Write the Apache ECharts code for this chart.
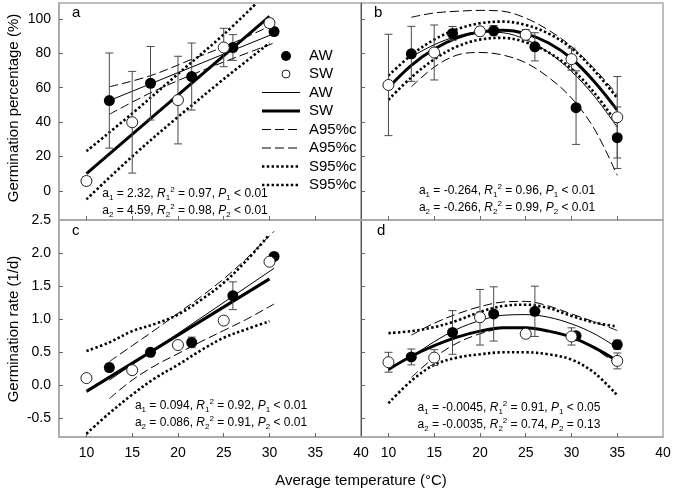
<!DOCTYPE html>
<html><head><meta charset="utf-8">
<script src="https://cdn.jsdelivr.net/npm/echarts@6/dist/echarts.min.js"></script>
<style>html,body{margin:0;padding:0;background:#fff}#c{width:675px;height:496px}</style>
</head><body><div id="c"></div>
<script>
// ---------- data ----------
const tempAW = [12.5, 17, 21.5, 26, 30.5, 35];
const tempSW = [10, 15, 20, 25, 30, 35];
const xTickLabels = [10, 15, 20, 25, 30, 35, 40];
const pctTicks = [0, 20, 40, 60, 80, 100];
const rateTicks = [-0.5, 0, 0.5, 1.0, 1.5, 2.0, 2.5];

// panel a: germination percentage (linear)
const aAW = [52.5, 62.6, 66.5, 83.4, 92.7];
const aAWerr = [27.7, 21.4, 19.5, 7.5, 2];
const aSW = [5.7, 39.9, 52.8, 83.4, 97.6];
const aSWerr = [2.5, 29.6, 25.5, 11.2, 2.5];
const aFitAW = [[12.5, 52.5], [30.5, 91.5]];
const aFitSW = [[10, 10], [30, 101.5]];
const aA95U = [[12.5, 60.5], [17, 67], [21.5, 76.5], [26, 86], [30.5, 97]];
const aA95L = [[12.5, 44.5], [17, 57], [21.5, 67.5], [26, 77], [30.5, 86]];
const aS95U = [[10, 23], [15, 45], [20, 68], [25, 91], [28.6, 109.3]];
const aS95L = [[10, -5], [15, 20], [20, 43], [25, 65], [30, 86]];

// panel b: germination percentage (quadratic)
const bAW = [79.7, 91.6, 93.2, 83.8, 48.4, 30.9];
const bAWerr = [16, 4, 3, 8.2, 21.4, 17.9];
const bSW = [61.6, 80.5, 92.8, 90.8, 76.6, 42.8];
const bSWerr = [29.5, 16, 2.5, 3, 6.4, 23.7];
const bFitAW = [[12.5, 78], [15, 85], [17.5, 90], [20, 92.5], [22.5, 92], [25, 88], [27.5, 80.5], [30, 69.5], [32.5, 55], [35, 37]];
const bFitSW = [[10, 60], [12.5, 73], [15, 82.5], [17.5, 89], [20, 92.5], [22.5, 93.5], [25, 91.5], [27.5, 86], [30, 77], [32.5, 63.5], [35, 47]];
const bA95U = [[12.5, 101], [15, 103.5], [17.5, 104.5], [20, 105], [22.5, 104.5], [25, 100.5], [27.5, 93.5], [30, 84], [32.5, 71], [35, 56]];
const bA95L = [[12.5, 60.5], [15, 72], [17.5, 79], [20, 80.5], [22.5, 79], [25, 74.5], [27.5, 66], [30, 54], [32.5, 36], [35, 9]];
const bS95U = [[10, 67], [12.5, 79], [15, 88], [17.5, 94], [20, 97.5], [22.5, 98.5], [25, 96.5], [27.5, 91.5], [30, 83], [32.5, 70], [35, 54]];
const bS95L = [[10, 53], [12.5, 66], [15, 76.5], [17.5, 84], [20, 88], [22.5, 89], [25, 86.5], [27.5, 80.5], [30, 71], [32.5, 57], [35, 39]];

// panel c: germination rate (linear)
const cAW = [0.27, 0.50, 0.65, 1.355, 1.95];
const cAWerr = [0.06, 0.04, 0.08, 0.21, 0.03];
const cSW = [0.11, 0.23, 0.61, 0.98, 1.87];
const cSWerr = [0.05, 0.03, 0.05, 0.06, 0.04];
const cFitAW = [[12.5, 0.08], [30.5, 1.77]];
const cFitSW = [[10, -0.09], [30, 1.61]];
const cA95U = [[12.5, 0.36], [15, 0.6], [17.5, 0.84], [20, 1.09], [22.5, 1.34], [25, 1.61], [27.5, 1.92], [30.5, 2.33]];
const cA95L = [[12.5, -0.2], [15, 0.08], [17.5, 0.3], [20, 0.48], [22.5, 0.66], [25, 0.83], [27.5, 1.0], [30.5, 1.23]];
const cS95U = [[10, 0.52], [12.5, 0.65], [15, 0.82], [17.5, 0.93], [20, 1.07], [22.5, 1.29], [25, 1.55], [27.5, 1.89], [30, 2.28]];
const cS95L = [[10, -0.73], [12.5, -0.42], [15, -0.14], [17.5, 0.11], [20, 0.31], [22.5, 0.53], [25, 0.72], [27.5, 0.85], [30, 0.97]];

// panel d: germination rate (quadratic)
const dAW = [0.43, 0.80, 1.08, 1.12, 0.75, 0.615];
const dAWerr = [0.12, 0.33, 0.41, 0.38, 0.04, 0.07];
const dSW = [0.35, 0.42, 1.03, 0.78, 0.74, 0.37];
const dSWerr = [0.15, 0.12, 0.42, 0.06, 0.13, 0.12];
const dFitAW = [[12.5, 0.43], [15, 0.66], [17.5, 0.85], [20, 0.98], [22.5, 1.06], [25, 1.07], [27.5, 1.03], [30, 0.93], [32.5, 0.78], [35, 0.57]];
const dFitSW = [[10, 0.24], [12.5, 0.44], [15, 0.6], [17.5, 0.73], [20, 0.82], [22.5, 0.87], [25, 0.87], [27.5, 0.82], [30, 0.73], [32.5, 0.57], [35, 0.37]];
const dA95U = [[12.5, 0.76], [15, 0.94], [17.5, 1.08], [20, 1.19], [22.5, 1.26], [25, 1.27], [27.5, 1.2], [30, 1.08], [32.5, 0.96], [35, 0.83]];
const dA95L = [[12.5, 0.12], [15, 0.42], [17.5, 0.64], [20, 0.78], [22.5, 0.86], [25, 0.87], [27.5, 0.83], [30, 0.73], [32.5, 0.56], [35, 0.31]];
const dS95U = [[10, 0.79], [12.5, 0.82], [15, 0.88], [17.5, 0.98], [20, 1.11], [22.5, 1.2], [25, 1.22], [27.5, 1.17], [30, 1.05], [32.5, 0.95], [35, 0.89]];
const dS95L = [[10, -0.27], [12.5, 0.07], [15, 0.31], [17.5, 0.42], [20, 0.47], [22.5, 0.5], [25, 0.5], [27.5, 0.47], [30, 0.39], [32.5, 0.19], [35, -0.15]];

const statsA = ['2.32', '0.97', '< 0.01', '4.59', '0.98', '< 0.01'];
const statsB = ['-0.264', '0.96', '< 0.01', '-0.266', '0.99', '< 0.01'];
const statsC = ['0.094', '0.92', '< 0.01', '0.086', '0.91', '< 0.01'];
const statsD = ['-0.0045', '0.91', '< 0.05', '-0.0035', '0.74', '= 0.13'];

const legendNames = ['AW', 'SW', 'AW', 'SW', 'A95%c', 'A95%c', 'S95%c', 'S95%c'];

// ---------- build ----------
const FONT = '"Liberation Sans", Arial, Helvetica, sans-serif';
const FRAME = '#a8a8a8';
const DOT = [2.4, 2.4];
const DASH = [9, 4];

const panels = [
  {left: 59, top: 3, ymin: -17, ymax: 109.3, yTicks: pctTicks, showY: true, showX: false,
   AWx: tempAW.slice(0, 5), SWx: tempSW.slice(0, 5), AW: aAW, AWe: aAWerr, SW: aSW, SWe: aSWerr,
   fitAW: aFitAW, fitSW: aFitSW, A95U: aA95U, A95L: aA95L, S95U: aS95U, S95L: aS95L},
  {left: 361, top: 3, ymin: -17, ymax: 109.3, yTicks: pctTicks, showY: false, showX: false,
   AWx: tempAW, SWx: tempSW, AW: bAW, AWe: bAWerr, SW: bSW, SWe: bSWerr,
   fitAW: bFitAW, fitSW: bFitSW, A95U: bA95U, A95L: bA95L, S95U: bS95U, S95L: bS95L},
  {left: 59, top: 220, ymin: -0.78, ymax: 2.5, yTicks: rateTicks, showY: true, showX: true,
   AWx: tempAW.slice(0, 5), SWx: tempSW.slice(0, 5), AW: cAW, AWe: cAWerr, SW: cSW, SWe: cSWerr,
   fitAW: cFitAW, fitSW: cFitSW, A95U: cA95U, A95L: cA95L, S95U: cS95U, S95L: cS95L},
  {left: 361, top: 220, ymin: -0.78, ymax: 2.5, yTicks: rateTicks, showY: false, showX: true,
   AWx: tempAW, SWx: tempSW, AW: dAW, AWe: dAWerr, SW: dSW, SWe: dSWerr,
   fitAW: dFitAW, fitSW: dFitSW, A95U: dA95U, A95L: dA95L, S95U: dS95U, S95L: dS95L}
];

const grids = [], xAxes = [], yAxes = [], series = [];

function lineSeries(i, data, width, type) {
  return {type: 'line', xAxisIndex: i, yAxisIndex: i, data: data, symbol: 'none',
    smooth: data.length > 2 ? 0.35 : false, silent: true, z: 2, clip: true,
    lineStyle: {color: '#000', width: width, type: type, cap: 'butt', opacity: 1}};
}
function errSeries(i, xs, ys, es) {
  return {type: 'custom', xAxisIndex: i, yAxisIndex: i, z: 3, silent: true, clip: true,
    data: xs.map((x, k) => [x, ys[k], es[k]]),
    renderItem: function (params, api) {
      const x = api.value(0), y = api.value(1), e = api.value(2);
      const t = api.coord([x, y + e]), b = api.coord([x, y - e]);
      const w = 4, st = {stroke: '#4a4a4a', lineWidth: 1};
      return {type: 'group', children: [
        {type: 'line', shape: {x1: t[0], y1: t[1], x2: b[0], y2: b[1]}, style: st},
        {type: 'line', shape: {x1: t[0] - w, y1: t[1], x2: t[0] + w, y2: t[1]}, style: st},
        {type: 'line', shape: {x1: b[0] - w, y1: b[1], x2: b[0] + w, y2: b[1]}, style: st}
      ]};
    }};
}

panels.forEach((p, i) => {
  grids.push({left: p.left, top: p.top, width: 302, height: 217, show: true,
    borderColor: FRAME, borderWidth: 1.5, containLabel: false});
  xAxes.push({type: 'value', gridIndex: i, min: 7, max: 40,
    axisLine: {show: true, onZero: false, lineStyle: {color: FRAME, width: 1.5}},
    axisTick: {show: true, inside: true, length: 4, customValues: [10, 15, 20, 25, 30, 35],
      lineStyle: {color: '#666'}},
    axisLabel: {show: p.showX, customValues: xTickLabels, margin: 9, color: '#000',
      fontSize: 14, fontFamily: FONT},
    splitLine: {show: false}});
  yAxes.push({type: 'value', gridIndex: i, min: p.ymin, max: p.ymax,
    axisLine: {show: true, onZero: false,
      lineStyle: {color: p.showY ? FRAME : '#555', width: p.showY ? 1.5 : 1}},
    axisTick: {show: true, inside: true, length: 4,
      customValues: p.yTicks.filter(v => v < p.ymax - 0.01), lineStyle: {color: '#666'}},
    axisLabel: {show: p.showY, customValues: p.yTicks, margin: 8, color: '#000',
      fontSize: 14, fontFamily: FONT,
      formatter: v => (p.yTicks === rateTicks ? Number(v).toFixed(1) : String(v))},
    splitLine: {show: false}});

  series.push(lineSeries(i, p.A95U, 1, DASH));
  series.push(lineSeries(i, p.A95L, 1, DASH));
  series.push(lineSeries(i, p.S95U, 2.6, DOT));
  series.push(lineSeries(i, p.S95L, 2.6, DOT));
  series.push(lineSeries(i, p.fitAW, 1, 'solid'));
  series.push(lineSeries(i, p.fitSW, 3, 'solid'));
  series.push(errSeries(i, p.AWx, p.AW, p.AWe));
  series.push(errSeries(i, p.SWx, p.SW, p.SWe));
  series.push({type: 'scatter', xAxisIndex: i, yAxisIndex: i, z: 5, silent: true,
    symbol: 'circle', symbolSize: 11, itemStyle: {color: '#000', opacity: 1},
    data: p.AWx.map((x, k) => [x, p.AW[k]])});
  series.push({type: 'scatter', xAxisIndex: i, yAxisIndex: i, z: 5, silent: true,
    symbol: 'circle', symbolSize: 11,
    itemStyle: {color: '#fff', borderColor: '#222', borderWidth: 1, opacity: 1},
    data: p.SWx.map((x, k) => [x, p.SW[k]])});
});

// ---------- text & legend graphics ----------
const graphics = [];
function txt(x, y, text, size, extra) {
  graphics.push(Object.assign({type: 'text', x: x, y: y, z: 20, silent: true,
    style: {text: text, font: size + 'px ' + FONT, fill: '#000', align: 'left', verticalAlign: 'middle'}}, extra || {}));
}
const rich = {
  n: {fontSize: 12, fontFamily: FONT, lineHeight: 16, verticalAlign: 'middle'},
  i: {fontSize: 12, fontFamily: FONT, fontStyle: 'italic', lineHeight: 16, verticalAlign: 'middle'},
  sub: {fontSize: 8, fontFamily: FONT, lineHeight: 8, verticalAlign: 'bottom'},
  sup: {fontSize: 8, fontFamily: FONT, lineHeight: 8, verticalAlign: 'top'}
};
function statLine(k, a, r2, p) {
  return '{n|a}{sub|' + k + '}{n| = ' + a + ', }{i|R}{sub|' + k + '}{sup|2}{n| = ' + r2 +
    ', }{i|P}{sub|' + k + '}{n| ' + p + '}';
}
function stats(cx, y1, y2, s) {
  [[y1, 1, 0], [y2, 2, 3]].forEach(([y, k, o]) => {
    graphics.push({type: 'text', x: cx, y: y, z: 20, silent: true,
      style: {text: statLine(k, s[o], s[o + 1], s[o + 2]), rich: rich, fill: '#000',
        align: 'center', verticalAlign: 'middle'}});
  });
}
stats(185, 194, 211, statsA);
stats(507, 191, 207.5, statsB);
stats(221, 406, 422.5, statsC);
stats(509, 408, 425, statsD);

// panel letters
txt(72, 13, 'a', 15);
txt(374, 13, 'b', 15);
txt(72, 231, 'c', 15);
txt(377, 231, 'd', 15);

// axis titles
graphics.push({type: 'text', x: 361, y: 481, z: 20, silent: true,
  style: {text: 'Average temperature (°C)', font: '15px ' + FONT, fill: '#000', align: 'center', verticalAlign: 'middle'}});
graphics.push({type: 'text', x: 14, y: 108, rotation: Math.PI / 2, z: 20, silent: true,
  style: {text: 'Germination percentage (%)', font: '15px ' + FONT, fill: '#000', align: 'center', verticalAlign: 'middle'}});
graphics.push({type: 'text', x: 14, y: 329, rotation: Math.PI / 2, z: 20, silent: true,
  style: {text: 'Germination rate (1/d)', font: '15px ' + FONT, fill: '#000', align: 'center', verticalAlign: 'middle'}});

// legend (panel a)
const legY = [56, 74, 92.5, 111, 129.5, 148, 166.5, 185];
const lx1 = 262, lx2 = 300, ltx = 309;
graphics.push({type: 'circle', z: 20, silent: true, shape: {cx: 286, cy: legY[0], r: 5}, style: {fill: '#000'}});
graphics.push({type: 'circle', z: 20, silent: true, shape: {cx: 286, cy: legY[1], r: 4}, style: {fill: '#fff', stroke: '#222', lineWidth: 1}});
const legLines = [null, null, [1, null], [3, null], [1, DASH], [1, DASH], [2.6, DOT], [2.6, DOT]];
legLines.forEach((l, k) => {
  if (!l) return;
  graphics.push({type: 'line', z: 20, silent: true, shape: {x1: lx1, y1: legY[k], x2: lx2, y2: legY[k]},
    style: {stroke: '#000', lineWidth: l[0], lineDash: l[1]}});
});
legendNames.forEach((name, k) => txt(ltx, legY[k], name, 15));

const chart = echarts.init(document.getElementById('c'), null, {renderer: 'canvas'});
chart.setOption({
  animation: false,
  backgroundColor: '#fff',
  grid: grids, xAxis: xAxes, yAxis: yAxes, series: series, graphic: graphics
});
</script></body></html>
